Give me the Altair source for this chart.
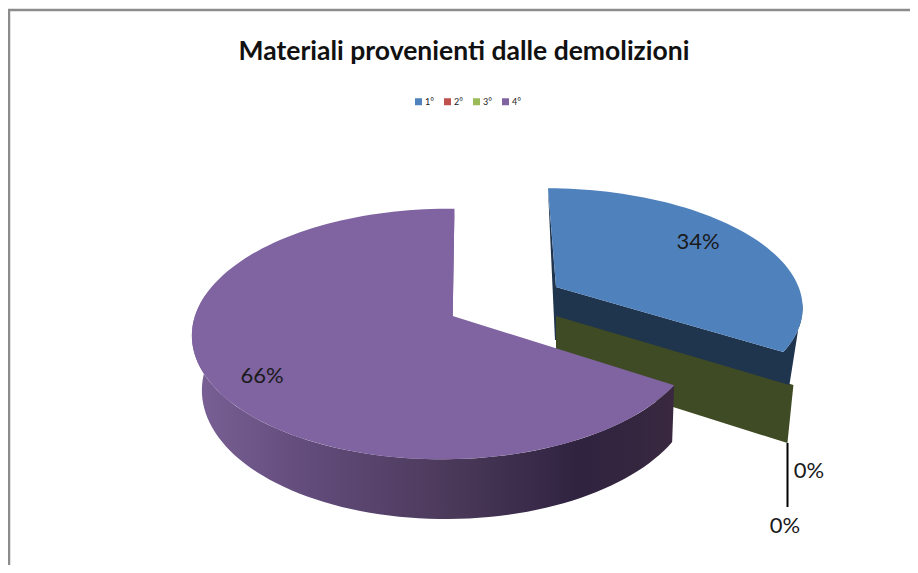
import math
import altair as alt
import pandas as pd

categories = ["1°", "2°", "3°", "4°"]
shares = [34, 0, 0, 66]
colors = ["#4f81bd", "#c0504d", "#9bbb59", "#8064a2"]
title_text = "Materiali provenienti dalle demolizioni"

W, H, TOP = 902, 495, 62
X0, Y0 = 8, 8 + TOP

# 3D view of the disc: centre, radii, perspective
PURPLE = dict(cx=452.7, cy=316, rx=250, s=122.6, k=0.144, m=0.03, sx=2)
BLUE = dict(cx=556, cy=287, rx=245, s=113, k=0.144, m=0.01, sx=-9.2)


def pt(d, deg, r=1.0, scale_x=1.0, scale_y=1.0, ox=0.0, oy=0.0):
    a = math.radians(deg)
    u, v = r * math.sin(a), r * math.cos(a)
    w = 1 + d["k"] * v + d["m"] * u
    return (
        d["cx"] + ox + scale_x * (d["rx"] * u + d["sx"] * v) / w,
        d["cy"] + oy - scale_y * d["s"] * v / w,
    )


def rng(a, b, step=2.0):
    n = max(1, int(abs(b - a) / step))
    return [a + (b - a) * i / n for i in range(n + 1)]


def frame(points, cat=""):
    return pd.DataFrame(
        [{"cat": cat, "i": i, "x": p[0], "y": p[1]} for i, p in enumerate(points)]
    )


angles = []
acc = 0.0
for v in shares:
    angles.append((acc * 3.6, (acc + v) * 3.6))
    acc += v

# Top surfaces, one per category
tops = []
for cat, (a, b) in zip(categories, angles):
    d = BLUE if cat == "1°" else PURPLE
    if a == b:
        continue
    tops.append(frame([pt(d, 0, 0)] + [pt(d, t) for t in rng(a, b)], cat))
tops = pd.concat(tops)

cut = angles[0][1]

navy_sliver = frame([pt(BLUE, 0), pt(BLUE, 0, 0), pt(BLUE, 0, 0, oy=53), pt(BLUE, 0, 0, ox=-1, oy=53)])
navy_face = frame(
    [pt(BLUE, 0, 0), pt(BLUE, cut)]
    + [pt(BLUE, t) for t in rng(cut, 98, 3)]
    + [pt(BLUE, cut, ox=6, oy=33)]
    + [pt(BLUE, 0, 0, oy=29)]
)
olive_face = frame(
    [pt(BLUE, 0, 0, oy=27), pt(BLUE, cut, ox=10, oy=33), pt(BLUE, cut, ox=4, oy=91), pt(BLUE, 0, 0, oy=83)]
)
purple_wall = frame(
    [pt(PURPLE, t) for t in rng(cut, 280)]
    + [pt(PURPLE, t, scale_x=0.975, scale_y=1.04, ox=3.5, oy=54) for t in rng(280, cut)]
)
purple_sliver = frame([pt(PURPLE, 360), pt(PURPLE, 0, 0), pt(PURPLE, 0, 0, ox=-4.5)])

border = pd.DataFrame({"x": [9, 9, 920], "y": [575, 10, 10], "i": [0, 1, 2]})
leader = pd.DataFrame({"x": [787.5, 787.5], "y": [443, 507], "i": [0, 1]})

label_text = [f"{v}%" for v in shares]
labels = pd.DataFrame(
    {"t": label_text, "x": [698, 785, 809, 262], "y": [242, 526, 471, 376]}
)

xs = alt.Scale(domain=[X0, X0 + W], nice=False, zero=False)
ys = alt.Scale(domain=[Y0 + H, Y0], nice=False, zero=False)
X = alt.X("x:Q", scale=xs, axis=None)
Y = alt.Y("y:Q", scale=ys, axis=None)


def poly(df, fill):
    return (
        alt.Chart(df)
        .mark_line(fill=fill, strokeWidth=0, interpolate="linear-closed", clip=False)
        .encode(x=X, y=Y, order=alt.Order("i:Q"))
    )


wall_gradient = alt.Gradient(
    gradient="linear",
    x1=0, x2=1, y1=0, y2=0,
    stops=[
        alt.GradientStop(color="#7a6196", offset=0),
        alt.GradientStop(color="#614b7a", offset=0.25),
        alt.GradientStop(color="#4a3858", offset=0.55),
        alt.GradientStop(color="#2f2340", offset=0.8),
        alt.GradientStop(color="#39283f", offset=1),
    ],
)

top_layer = (
    alt.Chart(tops)
    .mark_line(strokeWidth=0, interpolate="linear-closed", clip=False)
    .encode(
        x=X,
        y=Y,
        order=alt.Order("i:Q"),
        fill=alt.Fill(
            "cat:N",
            scale=alt.Scale(domain=categories, range=colors),
            legend=alt.Legend(
                title=None,
                orient="none",
                legendX=406,
                legendY=27,
                direction="horizontal",
                columns=4,
                symbolType="square",
                symbolSize=49,
                symbolStrokeWidth=0,
                labelFontSize=9,
                labelFont="Lato",
                labelColor="#222222",
                columnPadding=9,
                labelOffset=2,
            ),
        ),
    )
)

border_layer = (
    alt.Chart(border)
    .mark_line(color="#8c8c8c", strokeWidth=2.5, clip=False)
    .encode(x=X, y=Y, order=alt.Order("i:Q"))
)
leader_layer = (
    alt.Chart(leader)
    .mark_line(color="#000000", strokeWidth=2, clip=False)
    .encode(x=X, y=Y, order=alt.Order("i:Q"))
)
label_layer = (
    alt.Chart(labels)
    .mark_text(font="Lato", fontSize=22, color="#1a1a1a", baseline="middle", align="center", clip=False)
    .encode(x=X, y=Y, text="t:N")
)

chart = (
    alt.layer(
        border_layer,
        poly(navy_sliver, "#1f344d"),
        poly(olive_face, "#3f4b24"),
        poly(navy_face, "#1f344d"),
        poly(purple_wall, wall_gradient),
        poly(purple_sliver, "#6d5690"),
        top_layer,
        leader_layer,
        label_layer,
    )
    .resolve_scale(fill="independent")
    .properties(
        width=W,
        height=H,
        autosize=alt.AutoSizeParams(type="none"),
        padding={"left": 0, "top": TOP, "right": 0, "bottom": 0},
        background="#ffffff",
        title=alt.TitleParams(
            title_text,
            font="Lato",
            fontSize=26.5,
            fontWeight="bold",
            color="#111111",
            anchor="middle",
            offset=-60,
            dx=5,
        ),
    )
    .configure_view(stroke=None)
)

chart.save("out.html", embed_options={"renderer": "svg", "actions": False})
